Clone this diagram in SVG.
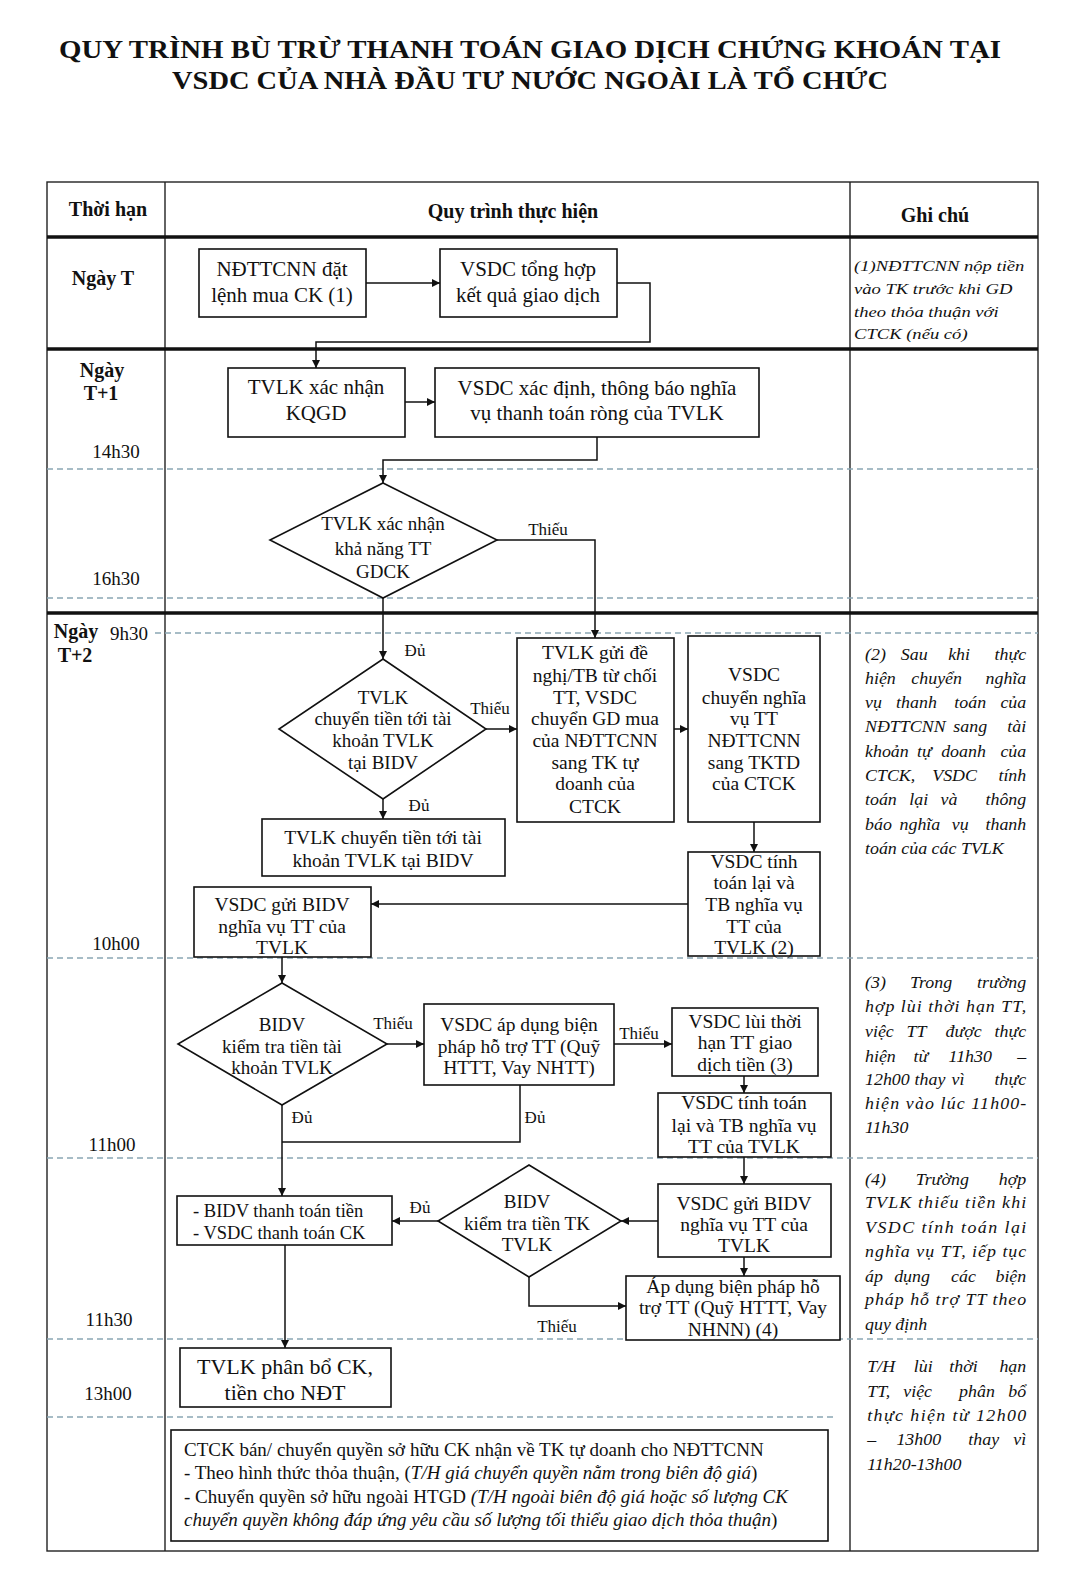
<svg xmlns="http://www.w3.org/2000/svg" width="1082" height="1576" viewBox="0 0 1082 1576">
<style>
text{font-family:"Liberation Serif","Times New Roman",serif;fill:#111}
.t{font-size:26px;font-weight:bold;text-anchor:middle}
.h{font-size:20px;font-weight:bold;text-anchor:middle}
.tm{font-size:19px;text-anchor:middle}
.b{font-size:19.5px;text-anchor:middle}
.d{font-size:19px;text-anchor:middle}
.b18{font-size:21px;text-anchor:middle}
.lb{font-size:17px;text-anchor:middle}
.n{font-size:16px;font-style:italic}
.n1{font-size:15.5px;font-style:italic}
.m{text-anchor:middle}
.e{text-anchor:end}
.bx{font-size:19px}
.box{fill:#fff;stroke:#111;stroke-width:1.6}
.grid{stroke:#222;stroke-width:1.4;fill:none}
.thick{stroke:#111;stroke-width:3.5}
.dash{stroke:#8aa6b4;stroke-width:1.4;stroke-dasharray:6 4}
.c{fill:none;stroke:#111;stroke-width:1.5}
</style>
<defs>
<marker id="ah" viewBox="0 0 10 10" refX="10" refY="5" markerWidth="8" markerHeight="8" markerUnits="userSpaceOnUse" orient="auto"><path d="M0,0 L10,5 L0,10 z" fill="#111"/></marker>
</defs>
<rect width="1082" height="1576" fill="#fff"/>
<g id="title">
<text class="t" x="530" y="58" textLength="942" lengthAdjust="spacingAndGlyphs">QUY TRÌNH BÙ TRỪ THANH TOÁN GIAO DỊCH CHỨNG KHOÁN TẠI</text>
<text class="t" x="530" y="89" textLength="716" lengthAdjust="spacingAndGlyphs">VSDC CỦA NHÀ ĐẦU TƯ NƯỚC NGOÀI LÀ TỔ CHỨC</text>
</g>
<g id="table">
<rect class="grid" x="47" y="182" width="991" height="1369"/>
<line class="grid" x1="165" y1="182" x2="165" y2="1551"/>
<line class="grid" x1="850" y1="182" x2="850" y2="1551"/>
<line class="thick" x1="47" y1="237" x2="1038" y2="237"/>
<line class="thick" x1="47" y1="349" x2="1038" y2="349"/>
<line class="thick" x1="47" y1="613" x2="1038" y2="613"/>
<line class="dash" x1="47" y1="469" x2="1038" y2="469"/>
<line class="dash" x1="47" y1="598" x2="1038" y2="598"/>
<line class="dash" x1="155" y1="633" x2="1038" y2="633"/>
<line class="dash" x1="47" y1="958" x2="1038" y2="958"/>
<line class="dash" x1="47" y1="1158" x2="1038" y2="1158"/>
<line class="dash" x1="47" y1="1339" x2="1038" y2="1339"/>
<line class="dash" x1="47" y1="1417" x2="834" y2="1417"/>
<text class="h" x="108" y="216">Thời hạn</text>
<text class="h" x="513" y="218">Quy trình thực hiện</text>
<text class="h" x="935" y="222">Ghi chú</text>
<text class="h" x="103" y="285">Ngày T</text>
<text class="h" x="102" y="377">Ngày</text>
<text class="h" x="101" y="400">T+1</text>
<text class="h" x="76" y="638">Ngày</text>
<text class="h" x="75" y="662">T+2</text>
<text class="tm" x="129" y="640">9h30</text>
<text class="tm" x="116" y="458">14h30</text>
<text class="tm" x="116" y="585">16h30</text>
<text class="tm" x="116" y="950">10h00</text>
<text class="tm" x="112" y="1151">11h00</text>
<text class="tm" x="109" y="1326">11h30</text>
<text class="tm" x="108" y="1400">13h00</text>
</g>
<g id="notes">
<g class="n1" transform="matrix(1.2 0 0 1 854 0)">
<text x="0" y="271">(1)NĐTTCNN nộp tiền</text>
<text x="0" y="294">vào TK trước  khi GD</text>
<text x="0" y="317">theo thỏa thuận với</text>
<text x="0" y="339">CTCK (nếu có)</text>
</g>
<g class="n" transform="matrix(1.12 0 0 1 865 0)">
<text x="0" y="660">(2)</text><text class="m" x="44" y="660">Sau</text><text class="m" x="84" y="660">khi</text><text class="e" x="144" y="660">thực</text>
<text x="0" y="684">hiện</text><text class="m" x="64" y="684">chuyển</text><text class="e" x="144" y="684">nghĩa</text>
<text x="0" y="708">vụ</text><text class="m" x="46" y="708">thanh</text><text class="m" x="94" y="708">toán</text><text class="e" x="144" y="708">của</text>
<text x="0" y="732">NĐTTCNN</text><text class="m" x="94" y="732">sang</text><text class="e" x="144" y="732">tài</text>
<text x="0" y="757">khoản</text><text class="m" x="53" y="757">tự</text><text class="m" x="88" y="757">doanh</text><text class="e" x="144" y="757">của</text>
<text x="0" y="781">CTCK,</text><text class="m" x="80" y="781">VSDC</text><text class="e" x="144" y="781">tính</text>
<text x="0" y="805">toán</text><text class="m" x="48" y="805">lại</text><text class="m" x="75" y="805">và</text><text class="e" x="144" y="805">thông</text>
<text x="0" y="830">báo</text><text class="m" x="49" y="830">nghĩa</text><text class="m" x="85" y="830">vụ</text><text class="e" x="144" y="830">thanh</text>
<text x="0" y="854">toán của các TVLK</text>
<text x="0" y="988">(3)</text><text class="m" x="59" y="988">Trong</text><text class="e" x="144" y="988">trường</text>
<text x="0" y="1012" textLength="144" lengthAdjust="spacing">hợp lùi thời hạn TT,</text>
<text x="0" y="1037">việc</text><text class="m" x="46" y="1037">TT</text><text class="m" x="88" y="1037">được</text><text class="e" x="144" y="1037">thực</text>
<text x="0" y="1062">hiện</text><text class="m" x="50" y="1062">từ</text><text class="m" x="94" y="1062">11h30</text><text class="e" x="144" y="1062">–</text>
<text x="0" y="1085">12h00</text><text class="m" x="58" y="1085">thay</text><text class="m" x="83" y="1085">vì</text><text class="e" x="144" y="1085">thực</text>
<text x="0" y="1109" textLength="144" lengthAdjust="spacing">hiện vào lúc 11h00-</text>
<text x="0" y="1133">11h30</text>
<text x="0" y="1185">(4)</text><text class="m" x="69" y="1185">Trường</text><text class="e" x="144" y="1185">hợp</text>
<text x="0" y="1208" textLength="144" lengthAdjust="spacing">TVLK thiếu tiền khi</text>
<text x="0" y="1233" textLength="144" lengthAdjust="spacing">VSDC tính toán lại</text>
<text x="0" y="1257" textLength="144" lengthAdjust="spacing">nghĩa vụ TT, iếp tục</text>
<text x="0" y="1282">áp</text><text class="m" x="42" y="1282">dụng</text><text class="m" x="88" y="1282">các</text><text class="e" x="144" y="1282">biện</text>
<text x="0" y="1305" textLength="144" lengthAdjust="spacing">pháp hỗ trợ TT theo</text>
<text x="0" y="1330">quy định</text>
<text x="2" y="1372">T/H</text><text class="m" x="52" y="1372">lùi</text><text class="m" x="88" y="1372">thời</text><text class="e" x="144" y="1372">hạn</text>
<text x="2" y="1397">TT,</text><text class="m" x="47" y="1397">việc</text><text class="m" x="100" y="1397">phân</text><text class="e" x="144" y="1397">bổ</text>
<text x="2" y="1421" textLength="142" lengthAdjust="spacing">thực hiện từ 12h00</text>
<text x="2" y="1445">–</text><text class="m" x="48" y="1445">13h00</text><text class="m" x="106" y="1445">thay</text><text class="e" x="144" y="1445">vì</text>
<text x="2" y="1470">11h20-13h00</text>
</g>
</g>
<g id="connectors">
<path class="c" d="M366,283 H440" marker-end="url(#ah)"/>
<path class="c" d="M617,283 H650 V342 H316 V368" marker-end="url(#ah)"/>
<path class="c" d="M405,402 H435" marker-end="url(#ah)"/>
<path class="c" d="M597,437 V460 H383 V483" marker-end="url(#ah)"/>
<path class="c" d="M497,540 H595 V638" marker-end="url(#ah)"/>
<path class="c" d="M383,598 V659" marker-end="url(#ah)"/>
<path class="c" d="M486,729 H517" marker-end="url(#ah)"/>
<path class="c" d="M674,729 H688" marker-end="url(#ah)"/>
<path class="c" d="M383,799 V819" marker-end="url(#ah)"/>
<path class="c" d="M754,822 V852" marker-end="url(#ah)"/>
<path class="c" d="M688,904 H371" marker-end="url(#ah)"/>
<path class="c" d="M282,957 V983" marker-end="url(#ah)"/>
<path class="c" d="M387,1044 H424" marker-end="url(#ah)"/>
<path class="c" d="M614,1044 H672" marker-end="url(#ah)"/>
<path class="c" d="M744,1076 V1093" marker-end="url(#ah)"/>
<path class="c" d="M282,1105 V1196" marker-end="url(#ah)"/>
<path class="c" d="M520,1085 V1142 H282"/>
<path class="c" d="M744,1157 V1184" marker-end="url(#ah)"/>
<path class="c" d="M658,1221 H621" marker-end="url(#ah)"/>
<path class="c" d="M438,1221 H392" marker-end="url(#ah)"/>
<path class="c" d="M744,1257 V1276" marker-end="url(#ah)"/>
<path class="c" d="M529,1277 V1306 H626" marker-end="url(#ah)"/>
<path class="c" d="M285,1245 V1348" marker-end="url(#ah)"/>
<g class="lb">
<text x="548" y="535">Thiếu</text>
<text x="415" y="656">Đủ</text>
<text x="490" y="714">Thiếu</text>
<text x="419" y="811">Đủ</text>
<text x="393" y="1029">Thiếu</text>
<text x="639" y="1039">Thiếu</text>
<text x="302" y="1123">Đủ</text>
<text x="535" y="1123">Đủ</text>
<text x="420" y="1213">Đủ</text>
<text x="557" y="1332">Thiếu</text>
</g>
</g>
<g id="n1"><rect class="box" x="199" y="249" width="167" height="68"/><text class="b18" x="282" y="276">NĐTTCNN đặt</text><text class="b18" x="282" y="302">lệnh mua CK (1)</text></g>
<g id="n2"><rect class="box" x="440" y="249" width="177" height="68"/><text class="b18" x="528" y="276">VSDC tổng hợp</text><text class="b18" x="528" y="302">kết quả giao dịch</text></g>
<g id="n3"><rect class="box" x="228" y="368" width="177" height="69"/><text class="b18" x="316" y="394">TVLK xác nhận</text><text class="b18" x="316" y="420">KQGD</text></g>
<g id="n4"><rect class="box" x="435" y="368" width="324" height="69"/><text class="b18" x="597" y="395">VSDC xác định, thông báo nghĩa</text><text class="b18" x="597" y="420">vụ thanh toán ròng của TVLK</text></g>
<g id="d1"><path class="box" d="M383,483 L497,540 L383,598 L270,540 Z"/><text class="d" x="383" y="530">TVLK  xác nhận</text><text class="d" x="383" y="555">khả năng TT</text><text class="d" x="383" y="578">GDCK</text></g>
<g id="d2"><path class="box" d="M383,659 L486,729 L383,799 L279,729 Z"/><text class="d" x="383" y="704">TVLK</text><text class="d" x="383" y="725">chuyển tiền tới tài</text><text class="d" x="383" y="747">khoản TVLK</text><text class="d" x="383" y="769">tại BIDV</text></g>
<g id="n5"><rect class="box" x="517" y="638" width="157" height="184"/>
<text class="b" x="595" y="659">TVLK  gửi đề</text><text class="b" x="595" y="682">nghị/TB từ chối</text><text class="b" x="595" y="704">TT, VSDC</text><text class="b" x="595" y="725">chuyển GD  mua</text><text class="b" x="595" y="747">của NĐTTCNN</text><text class="b" x="595" y="769">sang TK tự</text><text class="b" x="595" y="790">doanh của</text><text class="b" x="595" y="813">CTCK</text></g>
<g id="n6"><rect class="box" x="688" y="636" width="132" height="186"/>
<text class="b" x="754" y="681">VSDC</text><text class="b" x="754" y="704">chuyển nghĩa</text><text class="b" x="754" y="725">vụ TT</text><text class="b" x="754" y="747">NĐTTCNN</text><text class="b" x="754" y="769">sang TKTD</text><text class="b" x="754" y="790">của CTCK</text></g>
<g id="n7"><rect class="box" x="262" y="819" width="243" height="57"/><text class="b" x="383" y="844">TVLK  chuyển tiền tới tài</text><text class="b" x="383" y="867">khoản TVLK  tại BIDV</text></g>
<g id="n8"><rect class="box" x="688" y="852" width="132" height="104"/>
<text class="b" x="754" y="868">VSDC  tính</text><text class="b" x="754" y="889">toán lại  và</text><text class="b" x="754" y="911">TB nghĩa vụ</text><text class="b" x="754" y="933">TT của</text><text class="b" x="754" y="954">TVLK  (2)</text></g>
<g id="n9"><rect class="box" x="194" y="887" width="177" height="70"/><text class="b" x="282" y="911">VSDC  gửi BIDV</text><text class="b" x="282" y="933">nghĩa vụ TT của</text><text class="b" x="282" y="954">TVLK</text></g>
<g id="d3"><path class="box" d="M282,983 L387,1044 L282,1105 L178,1044 Z"/><text class="d" x="282" y="1031">BIDV</text><text class="d" x="282" y="1053">kiểm  tra tiền tài</text><text class="d" x="282" y="1074">khoản TVLK</text></g>
<g id="n10"><rect class="box" x="424" y="1004" width="190" height="81"/><text class="b" x="519" y="1031">VSDC  áp dụng biện</text><text class="b" x="519" y="1053">pháp hỗ trợ TT (Quỹ</text><text class="b" x="519" y="1074">HTTT, Vay NHTT)</text></g>
<g id="n11"><rect class="box" x="672" y="1008" width="146" height="68"/><text class="b" x="745" y="1028">VSDC  lùi thời</text><text class="b" x="745" y="1049">hạn TT giao</text><text class="b" x="745" y="1071">dịch tiền (3)</text></g>
<g id="n12"><rect class="box" x="658" y="1093" width="173" height="64"/><text class="b" x="744" y="1109">VSDC  tính toán</text><text class="b" x="744" y="1132">lại và TB nghĩa vụ</text><text class="b" x="744" y="1153">TT của TVLK</text></g>
<g id="n13"><rect class="box" x="658" y="1184" width="173" height="73"/><text class="b" x="744" y="1210">VSDC  gửi BIDV</text><text class="b" x="744" y="1231">nghĩa vụ TT của</text><text class="b" x="744" y="1252">TVLK</text></g>
<g id="d4"><path class="box" d="M529,1165 L621,1221 L529,1277 L438,1221 Z"/><text class="d" x="527" y="1208">BIDV</text><text class="d" x="527" y="1230">kiểm  tra tiền TK</text><text class="d" x="527" y="1251">TVLK</text></g>
<g id="n14"><rect class="box" x="177" y="1196" width="215" height="49"/><text x="193" y="1217" style="font-size:18.5px">- BIDV  thanh toán tiền</text><text x="193" y="1239" style="font-size:18.5px">- VSDC  thanh toán CK</text></g>
<g id="n15"><rect class="box" x="626" y="1276" width="214" height="64"/><text class="b" x="733" y="1293">Áp dụng biện pháp hỗ</text><text class="b" x="733" y="1314">trợ TT (Quỹ HTTT, Vay</text><text class="b" x="733" y="1336">NHNN) (4)</text></g>
<g id="n16"><rect class="box" x="180" y="1348" width="211" height="59"/><text class="b18" x="285" y="1374" style="font-size:22px">TVLK phân bổ CK,</text><text class="b18" x="285" y="1400" style="font-size:22px">tiền cho NĐT</text></g>
<g id="n17"><rect class="box" x="171" y="1430" width="657" height="111"/>
<text class="bx" x="184" y="1456">CTCK  bán/ chuyển quyền sở hữu CK  nhận về TK tự doanh cho NĐTTCNN</text>
<text class="bx" x="184" y="1479">- Theo hình thức thỏa thuận, (<tspan font-style="italic">T/H  giá chuyển quyền nằm trong biên độ giá</tspan>)</text>
<text class="bx" x="184" y="1503">- Chuyển quyền sở hữu ngoài HTGD  <tspan font-style="italic">(T/H ngoài biên độ giá hoặc số lượng CK</tspan></text>
<text class="bx" x="184" y="1526"><tspan font-style="italic">chuyển quyền không đáp ứng yêu cầu số lượng tối thiểu giao dịch thỏa thuận</tspan>)</text>
</g>
</svg>
